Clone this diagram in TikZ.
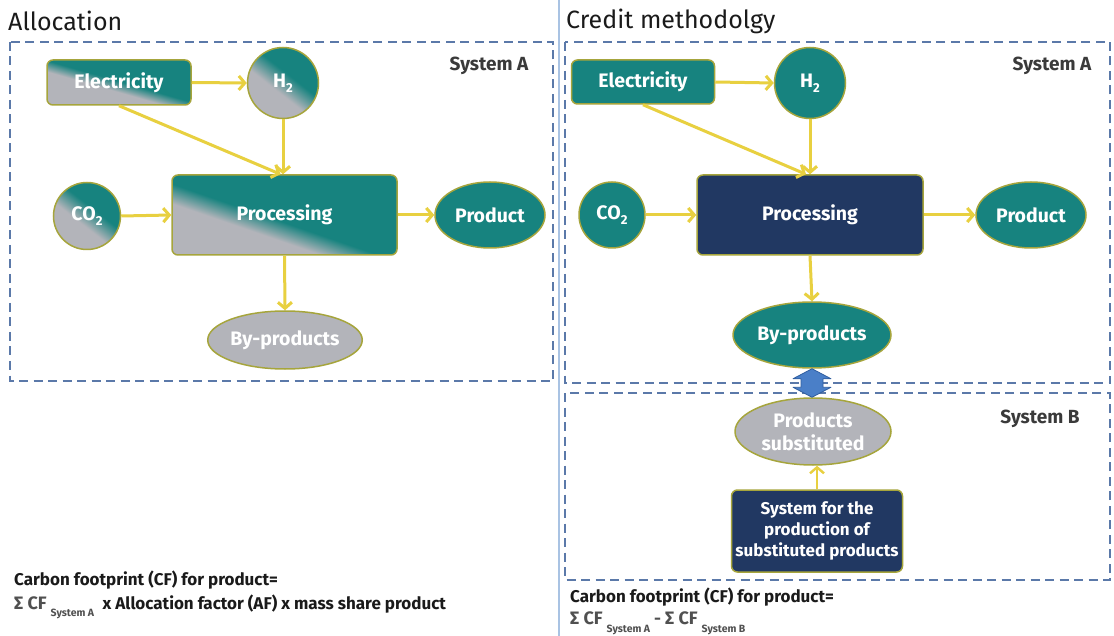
\documentclass[tikz,border=0pt]{standalone}
\usepackage{fontspec}
\setmainfont{Fira Sans}
\usetikzlibrary{arrows.meta,shapes.geometric,calc}
\definecolor{tealc}{HTML}{17837F}
\definecolor{grayc}{HTML}{B3B4BA}
\definecolor{navyc}{HTML}{213862}
\definecolor{bordc}{HTML}{A6A53C}
\definecolor{arrc}{HTML}{E8D040}
\definecolor{dashc}{HTML}{5B79A9}
\definecolor{sepc}{HTML}{A9C3E3}
\definecolor{bluec}{HTML}{4A7FC8}
\definecolor{bluedk}{HTML}{2F5D9F}
\definecolor{txtc}{HTML}{1A1A1A}
\definecolor{fgray}{HTML}{505050}
\definecolor{labc}{HTML}{3A3A3A}
\pgfdeclarehorizontalshading{gtproc}{100bp}{color(0bp)=(grayc); color(39bp)=(grayc); color(47bp)=(tealc); color(100bp)=(tealc)}
\pgfdeclarehorizontalshading{gtel}{100bp}{color(0bp)=(grayc); color(43bp)=(grayc); color(51bp)=(tealc); color(100bp)=(tealc)}
\pgfdeclarehorizontalshading{gtcirc}{100bp}{color(0bp)=(grayc); color(43bp)=(grayc); color(57bp)=(tealc); color(100bp)=(tealc)}
\newcommand{\subtwo}{\raisebox{-0.28em}{\fontsize{13}{13}\selectfont 2}}
\newcommand{\subsys}[1]{\raisebox{-0.45em}{\fontsize{10.5}{11}\selectfont #1}}
\newcommand{\sigcf}{{\fontsize{18}{18}\selectfont Σ CF}}
\begin{document}
\begin{tikzpicture}[x=1pt,y=-1pt,
  lbl/.style={text=white, font=\bfseries\fontsize{19.5}{22}\selectfont, inner sep=0pt, align=center},
  rbox/.style={lbl, rectangle, rounded corners=6pt, draw=bordc, line width=1.5pt},
  cbox/.style={lbl, circle, draw=bordc, line width=1.5pt},
  ebox/.style={lbl, ellipse, draw=bordc, line width=1.5pt},
  mixproc/.style={shade, shading=gtproc, shading angle=71},
  mixel/.style={shade, shading=gtel, shading angle=74},
  mixcirc/.style={shade, shading=gtcirc, shading angle=52},
  flow/.style={draw=arrc, line width=3pt, -{Straight Barb[length=6pt,width=14pt]}},
  sysframe/.style={draw=dashc, line width=2.2pt, dash pattern=on 9pt off 5.5pt},
  title/.style={anchor=west, inner sep=0pt, text=txtc, font=\fontsize{25}{28}\selectfont},
  syslab/.style={inner sep=0pt, text=labc, font=\bfseries\fontsize{19}{20}\selectfont},
  formula/.style={anchor=west, inner sep=0pt, text=txtc, font=\bfseries\fontsize{17}{20}\selectfont},
  dbl/.style={fill=bluec, draw=bluedk, line width=0.8pt, line join=round}
]
\useasboundingbox (0,0) rectangle (1114,636);
\fill[white] (0,0) rectangle (1114,636);

% separator
\draw[sepc, line width=2pt] (559,0) -- (559,636);

% titles
\node[title] (tL) at (8,21) {Allocation};
\node[title] (tR) at (566,21) {Credit methodolgy};

% frames
\draw[sysframe] (10,42) rectangle (553,381);
\draw[sysframe] (565,42) rectangle (1110,383);
\draw[sysframe] (565,393) rectangle (1110,580);

\node[syslab] (saL) at (489,66) {System A};
\node[syslab] (saR) at (1052,66) {System A};
\node[syslab] (sbR) at (1040,419) {System B};

% ---------- left ----------
\node[rbox, mixel, minimum width=144pt, minimum height=45pt] (elL) at (119,82.5) {Electricity};
\node[cbox, mixcirc, minimum size=71pt] (h2L) at (283,83) {H\subtwo};
\node[cbox, mixcirc, minimum size=67pt] (co2L) at (87,216) {CO\subtwo};
\node[rbox, mixproc, minimum width=225pt, minimum height=80pt] (procL) at (284.5,215) {Processing};
\node[ebox, fill=tealc, minimum width=110pt, minimum height=66pt] (prodL) at (490,215) {Product};
\node[ebox, fill=grayc, minimum width=150pt, minimum height=58pt] (bypL) at (285,340) {By-products};

\draw[flow] (elL.east) -- (h2L.west);
\draw[flow] (elL.south) -- ($(procL.north)+(-4,0)$);
\draw[flow] (h2L.south) -- (h2L.south |- procL.north);
\draw[flow] (co2L.east) -- (procL.west);
\draw[flow] (procL.east) -- (prodL.west);
\draw[flow] (procL.south) -- (bypL.north);

% ---------- right ----------
\node[rbox, fill=tealc, minimum width=143pt, minimum height=44pt] (elR) at (643,82) {Electricity};
\node[cbox, fill=tealc, minimum size=71pt] (h2R) at (810,83) {H\subtwo};
\node[cbox, fill=tealc, minimum size=66pt] (co2R) at (612,215) {CO\subtwo};
\node[rbox, fill=navyc, minimum width=226pt, minimum height=80pt] (procR) at (810,215) {Processing};
\node[ebox, fill=tealc, minimum width=110pt, minimum height=66pt] (prodR) at (1031,215) {Product};
\node[ebox, fill=tealc, minimum width=158pt, minimum height=66pt] (byR) at (812,335) {By-products};
\node[ebox, fill=grayc, minimum width=156pt, minimum height=67pt, font=\bfseries\fontsize{19.5}{23}\selectfont] (psB) at (813,431.5) {Products\\substituted};
\node[rbox, fill=navyc, minimum width=171pt, minimum height=82pt, font=\bfseries\fontsize{17}{21}\selectfont] (sysR) at (817,531) {System for the\\production of\\substituted products};

\draw[flow] (elR.east) -- (h2R.west);
\draw[flow] (elR.south) -- ($(procR.north)+(-4,0)$);
\draw[flow] (h2R.south) -- (procR.north);
\draw[flow] (co2R.east) -- (procR.west);
\draw[flow] (procR.east) -- (prodR.west);
\draw[flow] (procR.south) -- (byR.north);
\draw[flow, line width=2.4pt] (sysR.north) -- (sysR.north |- psB.south);

% blue double arrow
\draw[dbl] (byR.south) -- ($(byR.south)+(19,10)$) -- ($(byR.south)+(11,10)$)
  -- ($(byR.south |- psB.north)+(11,-10)$) -- ($(byR.south |- psB.north)+(19,-10)$)
  -- (byR.south |- psB.north) -- ($(byR.south |- psB.north)+(-19,-10)$)
  -- ($(byR.south |- psB.north)+(-11,-10)$) -- ($(byR.south)+(-11,10)$)
  -- ($(byR.south)+(-19,10)$) -- cycle;

% formulas
\node[formula] (fL1) at (14,580) {Carbon footprint (CF) for product=};
\node[formula] (fL2) at (14,607) {{\color{fgray}\sigcf\ \subsys{System A}}\enspace x Allocation factor (AF) x mass share product};
\node[formula] (fR1) at (570,597) {Carbon footprint (CF) for product=};
\node[formula] (fR2) at (570,623) {{\color{fgray}\sigcf\ \subsys{System A} - \sigcf\ \subsys{System B}}};
\end{tikzpicture}
\end{document}
